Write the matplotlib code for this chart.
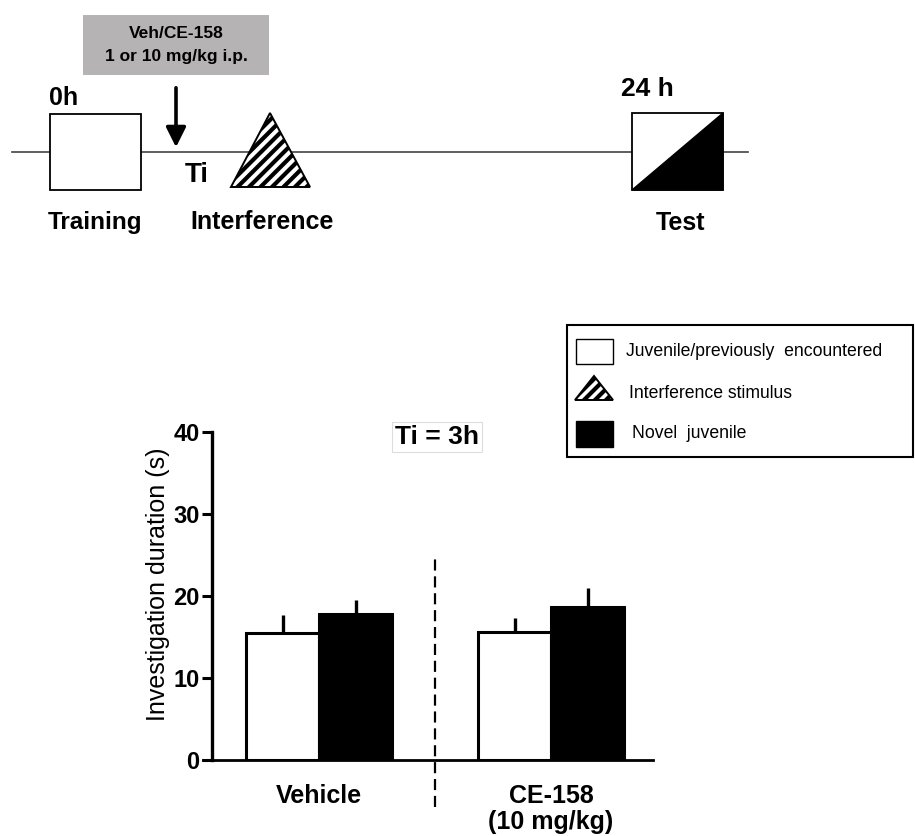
import matplotlib
matplotlib.use("Agg")
import matplotlib.pyplot as plt
from matplotlib.patches import Rectangle, Polygon
import numpy as np

plt.rcParams['font.family'] = ['Liberation Sans', 'DejaVu Sans']

# ---------------- data ----------------
groups = ["Vehicle", "CE-158\n(10 mg/kg)"]
familiar_mean = [15.5, 15.6]
familiar_sem = [2.2, 1.7]
novel_mean = [17.8, 18.7]
novel_sem = [1.7, 2.3]
yticks = [0, 10, 20, 30, 40]
legend_labels = ["Juvenile/previously  encountered", "Interference stimulus", "Novel  juvenile"]

W, H = 915, 836
fig = plt.figure(figsize=(W / 100, H / 100), dpi=100)

# ---------------- bar chart ----------------
def fx(px):
    return px / W

def fy(py):
    return 1 - py / H

ax_left_px, ax_right_px = 203, 653
ax_bottom_px, ax_top_px = 760, 432
ax = fig.add_axes([fx(ax_left_px), fy(ax_bottom_px),
                   fx(ax_right_px - ax_left_px), (ax_bottom_px - ax_top_px) / H])
unit = 232.0
x0 = (ax_left_px - 319) / unit
x1 = (ax_right_px - 319) / unit
ax.set_xlim(x0, x1)
ax.set_ylim(0, 40)

x = np.arange(len(groups))
bw = 73 / unit
ax.bar(x - bw / 2, familiar_mean, width=bw, color='white', edgecolor='black', linewidth=2.2, zorder=3)
ax.bar(x + bw / 2, novel_mean, width=bw, color='black', edgecolor='black', linewidth=2.2, zorder=3)
ax.errorbar(x - bw / 2, familiar_mean, yerr=[np.zeros(len(x)), familiar_sem], fmt='none',
            ecolor='black', elinewidth=2.4, capsize=0, zorder=2)
ax.errorbar(x + bw / 2, novel_mean, yerr=[np.zeros(len(x)), novel_sem], fmt='none',
            ecolor='black', elinewidth=2.4, capsize=0, zorder=2)

ax.plot([0.5, 0.5], [-5.7, 25], color='black', linestyle=(0, (5, 2.6)), linewidth=1.6, clip_on=False)

for s in ['top', 'right']:
    ax.spines[s].set_visible(False)
ax.spines['left'].set_position(('data', (212 - 319) / unit))
ax.spines['left'].set_linewidth(2.4)
ax.spines['bottom'].set_linewidth(2.0)
ax.spines['left'].set_bounds(0, 40)
ax.set_yticks(yticks)
ax.set_yticklabels([str(t) for t in yticks], fontsize=17, fontweight='bold')
ax.tick_params(axis='y', direction='out', length=7, width=2.2, pad=2)
ax.set_xticks(x)
ax.set_xticklabels(groups, fontsize=18, fontweight='bold', linespacing=1.1)
ax.tick_params(axis='x', length=0, pad=17)
ax.set_ylabel("Investigation duration (s)", fontsize=18)
ax.yaxis.set_label_coords((170 - ax_left_px) / (ax_right_px - ax_left_px),
                          (ax_bottom_px - 584) / (ax_bottom_px - ax_top_px))
ax.patch.set_alpha(0)

# ---------------- overlay (diagram + legend) ----------------
ov = fig.add_axes([0, 0, 1, 1], zorder=5)
ov.set_xlim(0, W)
ov.set_ylim(H, 0)
ov.axis('off')
ov.patch.set_alpha(0)


def hatched_triangle(pts, spacing, lw, z):
    tri = Polygon(pts, closed=True, facecolor='white', edgecolor='none', zorder=z)
    ov.add_patch(tri)
    xs = [p[0] for p in pts]
    ys = [p[1] for p in pts]
    xmin, xmax, ymin, ymax = min(xs), max(xs), min(ys), max(ys)
    hgt = ymax - ymin
    c = xmin - hgt
    while c < xmax + hgt:
        ln, = ov.plot([c - 10, c + hgt + 10], [ymax + 10, ymin - 10],
                      color='black', linewidth=lw, solid_capstyle='butt', zorder=z + 0.1)
        ln.set_clip_path(tri)
        c += spacing
    ov.add_patch(Polygon(pts, closed=True, facecolor='none', edgecolor='black',
                         linewidth=1.4, zorder=z + 0.2))


# timeline
ov.plot([12, 748], [152, 152], color='#444444', linewidth=1.2, zorder=1)
ov.add_patch(Rectangle((50, 114), 91, 76, facecolor='white', edgecolor='black', linewidth=1.3, zorder=2))
ov.text(49, 98, "0h", fontsize=18, fontweight='bold', ha='left', va='center')
ov.text(95, 222, "Training", fontsize=17.5, fontweight='bold', ha='center', va='center')

# gray injection box
ov.add_patch(Rectangle((83, 15), 186, 60, facecolor='#b5b3b3', edgecolor='none', zorder=2))
ov.text(176, 33, "Veh/CE-158", fontsize=12.5, fontweight='bold', ha='center', va='center', zorder=3)
ov.text(176, 57, "1 or 10 mg/kg i.p.", fontsize=12.5, fontweight='bold', ha='center', va='center', zorder=3)
ov.annotate("", xy=(176, 150), xytext=(176, 85),
            arrowprops=dict(arrowstyle='-|>', color='black', lw=2.6, mutation_scale=30))
ov.text(185, 175, "Ti", fontsize=20, fontweight='bold', ha='left', va='center')

# interference triangle
hatched_triangle([(231, 187), (270, 113), (310, 187)], spacing=11.5, lw=3.0, z=2)
ov.text(262, 222, "Interference", fontsize=18, fontweight='bold', ha='center', va='center')

# test box
ov.add_patch(Rectangle((632, 113), 91, 77, facecolor='white', edgecolor='black', linewidth=1.3, zorder=2))
ov.add_patch(Polygon([(632, 190), (723, 113), (723, 190)], closed=True, facecolor='black',
                     edgecolor='black', linewidth=1, zorder=3))
ov.text(647, 89, "24 h", fontsize=19, fontweight='bold', ha='center', va='center')
ov.text(680, 223, "Test", fontsize=18, fontweight='bold', ha='center', va='center')

# Ti = 3h label
ov.text(437, 437, "Ti = 3h", fontsize=19, fontweight='bold', ha='center', va='center',
        bbox=dict(boxstyle='square,pad=0.1', facecolor='white', edgecolor='#dddddd', linewidth=0.8))

# legend box
ov.add_patch(Rectangle((567, 325), 346, 132, facecolor='white', edgecolor='black', linewidth=1.5, zorder=2))
ov.add_patch(Rectangle((576, 339), 37, 25, facecolor='white', edgecolor='black', linewidth=1.0, zorder=3))
hatched_triangle([(575, 400), (594, 376), (613, 400)], spacing=11, lw=3.0, z=3)
ov.add_patch(Rectangle((576, 421), 37, 26, facecolor='black', edgecolor='black', linewidth=1.0, zorder=3))
ov.text(626, 352, legend_labels[0], fontsize=12.7, ha='left', va='center', zorder=4)
ov.text(629, 393, legend_labels[1], fontsize=12.7, ha='left', va='center', zorder=4)
ov.text(632, 434, legend_labels[2], fontsize=12.7, ha='left', va='center', zorder=4)

fig.savefig("out.png", dpi=100)
